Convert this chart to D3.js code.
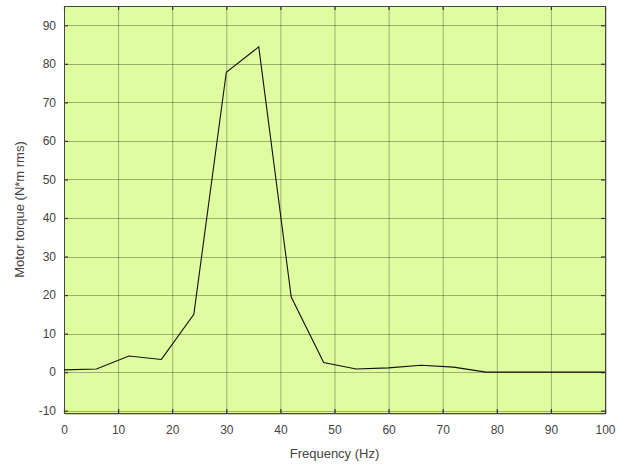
<!DOCTYPE html>
<html>
<head>
  <meta charset="utf-8">
  <title></title>
  <style>
    body { margin: 0; background: #fff; }
    text { font-family: "Liberation Sans", Arial, sans-serif; }
  </style>
</head>
<body>
  <svg width="627" height="468"></svg>

  <script src="https://d3js.org/d3.v7.min.js"></script>
  <script>

  // frequency (Hz) and torque (N*m rms)
  var freq   = [0, 6, 12, 18, 24, 30, 36, 42, 48, 54, 60, 66, 72, 78, 84, 90, 96, 100];
  var torque = [0.6, 0.8, 4.2, 3.3, 15, 77.8, 84.4, 19.5, 2.5, 0.8, 1.1, 1.8, 1.3, 0, 0, 0, 0, 0];
  var xTicks = [0, 10, 20, 30, 40, 50, 60, 70, 80, 90, 100];
  var yTicks = [-10, 0, 10, 20, 30, 40, 50, 60, 70, 80, 90];

  var svg = d3.select("svg"),
      margin = {top: 6, right: 22, bottom: 55, left: 64},
      width = 627 - margin.left - margin.right,
      height = 468 - margin.top - margin.bottom;

  var x = d3.scaleLinear().domain([0, 100]).range([0, width]);
  var y = d3.scaleLinear().domain([-10.6, 95]).range([height, 0]);

  var g = svg.append("g").attr("transform", "translate(" + margin.left + "," + margin.top + ")");

  // shadow + background
  g.append("rect")
      .attr("x", 1.5).attr("y", 1.5)
      .attr("width", width).attr("height", height)
      .attr("fill", "#999");
  g.append("rect")
      .attr("width", width).attr("height", height)
      .attr("fill", "#dffca0");

  // grid
  g.append("g")
      .selectAll("line")
      .data(xTicks.slice(1, -1))
      .enter().append("line")
      .attr("x1", function(d) { return x(d) + 0.5; })
      .attr("x2", function(d) { return x(d) + 0.5; })
      .attr("y1", 0).attr("y2", height)
      .attr("stroke", "#000").attr("stroke-opacity", 0.3);
  g.append("g")
      .selectAll("line")
      .data(yTicks)
      .enter().append("line")
      .attr("y1", function(d) { return Math.round(y(d)) + 0.5; })
      .attr("y2", function(d) { return Math.round(y(d)) + 0.5; })
      .attr("x1", 0).attr("x2", width)
      .attr("stroke", "#000").attr("stroke-opacity", 0.3);

  var plain = function(d) { return String(d); };

  // axes with inward ticks
  g.append("g")
      .attr("transform", "translate(0," + height + ")")
      .call(d3.axisBottom(x).tickValues(xTicks).tickFormat(plain).tickSizeInner(-4).tickSizeOuter(0).tickPadding(12));
  g.append("g")
      .call(d3.axisLeft(y).tickValues(yTicks).tickFormat(plain).tickSizeInner(-4).tickSizeOuter(0).tickPadding(8));
  g.append("g")
      .call(d3.axisTop(x).tickValues(xTicks).tickSizeInner(-4).tickSizeOuter(0).tickFormat(""));
  g.append("g")
      .attr("transform", "translate(" + width + ",0)")
      .call(d3.axisRight(y).tickValues(yTicks).tickSizeInner(-4).tickSizeOuter(0).tickFormat(""));

  g.selectAll(".domain").remove();
  g.selectAll(".tick line").attr("stroke", "#333").attr("stroke-width", 1.2);
  g.selectAll(".tick text").attr("fill", "#444").style("font-size", "12px")
      .style("font-family", "'Liberation Sans', Arial, sans-serif");

  // frame
  g.append("rect")
      .attr("x", 0.5).attr("y", 0.5)
      .attr("width", width).attr("height", height)
      .attr("fill", "none").attr("stroke", "#444");

  // series
  var line = d3.line()
      .x(function(d, i) { return x(freq[i]); })
      .y(function(d) { return y(d); });

  g.append("path")
      .datum(torque)
      .attr("d", line)
      .attr("fill", "none")
      .attr("stroke", "#111")
      .attr("stroke-width", 1.1);

  // titles
  svg.append("text")
      .attr("x", margin.left + width / 2)
      .attr("y", 458)
      .attr("text-anchor", "middle")
      .attr("fill", "#444")
      .style("font-size", "13px")
      .text("Frequency (Hz)");

  svg.append("text")
      .attr("transform", "translate(24," + (margin.top + height / 2) + ") rotate(-90)")
      .attr("text-anchor", "middle")
      .attr("fill", "#444")
      .style("font-size", "13px")
      .text("Motor torque (N*m rms)");

  </script>
</body>
</html>
